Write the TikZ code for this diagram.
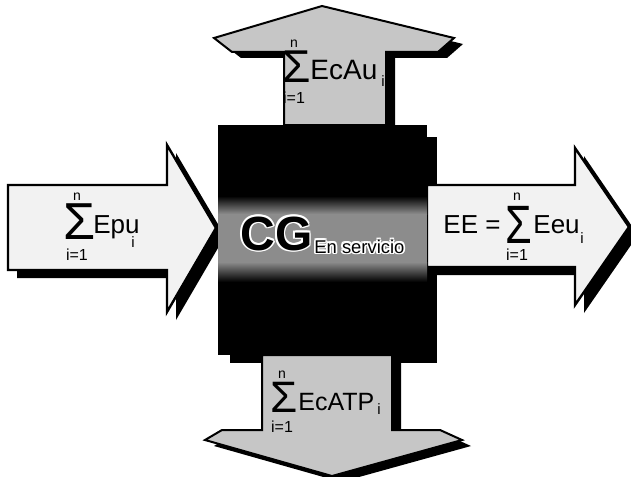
\documentclass[tikz,border=0pt]{standalone}
\usepackage{fontspec}
\usepackage{graphicx}
\setmainfont{Liberation Sans}
\newcommand\halo[1]{\leavevmode\rlap{\color{white}\kern-0.9pt#1}\rlap{\color{white}\kern0.9pt#1}\rlap{\color{white}\raisebox{0.9pt}{#1}}\rlap{\color{white}\raisebox{-0.9pt}{#1}}\rlap{\color{white}\kern-0.65pt\raisebox{0.65pt}{#1}}\rlap{\color{white}\kern0.65pt\raisebox{0.65pt}{#1}}\rlap{\color{white}\kern-0.65pt\raisebox{-0.65pt}{#1}}\rlap{\color{white}\kern0.65pt\raisebox{-0.65pt}{#1}}#1}
\tikzset{
  shadowfill/.style={fill=black},
  hzarrow/.style={fill=gray!10, draw=black, line width=1.2pt, line join=miter},
  vtarrow/.style={fill=gray!45, draw=black, line width=1pt, line join=miter},
  lbl/.style={inner sep=0pt, anchor=base west},
  lim/.style={inner sep=0pt, anchor=base, font=\fontsize{8}{8}\selectfont},
}
\begin{document}
\begin{tikzpicture}[x=0.5pt,y=-0.5pt]
\useasboundingbox[fill=white] (0,0) rectangle (631,476);

% box shadow
\fill[shadowfill] (230,137) rectangle (437,363);

% arrow shadows
\begin{scope}[shift={(9,8)}]
  \fill[shadowfill] (8,185) -- (167,185) -- (167,145) -- (216,228) -- (167,312) -- (167,270) -- (8,270) -- cycle;
  \fill[shadowfill] (427,185) -- (575,185) -- (575,148) -- (629,227) -- (575,305) -- (575,267) -- (427,267) -- cycle;
\end{scope}
\begin{scope}[shift={(9,6)}]
  \fill[shadowfill] (284,125) -- (284,52) -- (232,52) -- (214,38) -- (322,6) -- (454,38) -- (438,52) -- (386,52) -- (386,125) -- cycle;
  \fill[shadowfill] (262,355) -- (262,430) -- (222,430) -- (205,440) -- (332,476) -- (462,440) -- (440,430) -- (392,430) -- (392,355) -- cycle;
\end{scope}

% arrows
\draw[hzarrow] (8,185) -- (167,185) -- (167,145) -- (216,228) -- (167,312) -- (167,270) -- (8,270) -- cycle;
\draw[hzarrow] (427,185) -- (575,185) -- (575,148) -- (629,227) -- (575,305) -- (575,267) -- (427,267) -- cycle;
\draw[vtarrow] (284,125) -- (284,52) -- (232,52) -- (214,38) -- (322,6) -- (454,38) -- (438,52) -- (386,52) -- (386,125) -- cycle;
\draw[vtarrow] (262,355) -- (262,430) -- (222,430) -- (205,440) -- (332,476) -- (462,440) -- (440,430) -- (392,430) -- (392,355) -- cycle;

% central box with lighter band
\fill[black] (218,125) rectangle (427,355);
\shade[top color=black, bottom color=black!45] (218,196) rectangle (427,214);
\fill[black!45] (218,214) rectangle (427,262);
\shade[top color=black!45, bottom color=black] (218,262) rectangle (427,282);

% centre label
\node[lbl, font=\fontsize{24}{24}\selectfont\bfseries] (cg) at (240,250) {\halo{CG}};
\node[lbl, font=\fontsize{9.2}{9.2}\selectfont] (ens) at (314,253) {\halo{En servicio}};

% top label
\node[lbl, font=\fontsize{23}{23}\selectfont] (sigT) at (282,83) {Σ};
\node[lim, font=\fontsize{7}{7}\selectfont] (nT) at (294,48) {n};
\node[lim] (iT) at (294,104) {i=1};
\node[lbl, font=\fontsize{14}{14}\selectfont] (tT) at (310,80) {EcAu};
\node[lbl, font=\fontsize{7.5}{7.5}\selectfont] (sT) at (381,87) {i};

% left label
\node[lbl, font=\fontsize{26}{26}\selectfont] (sigL) at (63,239) {Σ};
\node[lim, font=\fontsize{7}{7}\selectfont] (nL) at (77,200) {n};
\node[lim] (iL) at (77,260) {i=1};
\node[lbl, font=\fontsize{13}{13}\selectfont] (tL) at (93,233) {Epu};
\node[lbl, font=\fontsize{7.5}{7.5}\selectfont] (sL) at (131,247) {i};

% right label
\node[lbl, font=\fontsize{13}{13}\selectfont] (tR1) at (443,233) {EE = };
\node[lbl, font=\fontsize{27}{27}\selectfont] (sigR) at (505,243) {\scalebox{0.8}[1]{Σ}};
\node[lim, font=\fontsize{7}{7}\selectfont] (nR) at (517,200) {n};
\node[lim] (iR) at (517,260) {i=1};
\node[lbl, font=\fontsize{13}{13}\selectfont] (tR) at (533,233) {Eeu};
\node[lbl, font=\fontsize{7.5}{7.5}\selectfont] (sR) at (580,243) {i};

% bottom label
\node[lbl, font=\fontsize{22}{22}\selectfont] (sigB) at (270,412) {Σ};
\node[lim, font=\fontsize{7}{7}\selectfont] (nB) at (282,378) {n};
\node[lim] (iB) at (282,432) {i=1};
\node[lbl, font=\fontsize{12.5}{12.5}\selectfont] (tB) at (298,410) {EcATP};
\node[lbl, font=\fontsize{7.5}{7.5}\selectfont] (sB) at (377,414) {i};
\end{tikzpicture}
\end{document}
